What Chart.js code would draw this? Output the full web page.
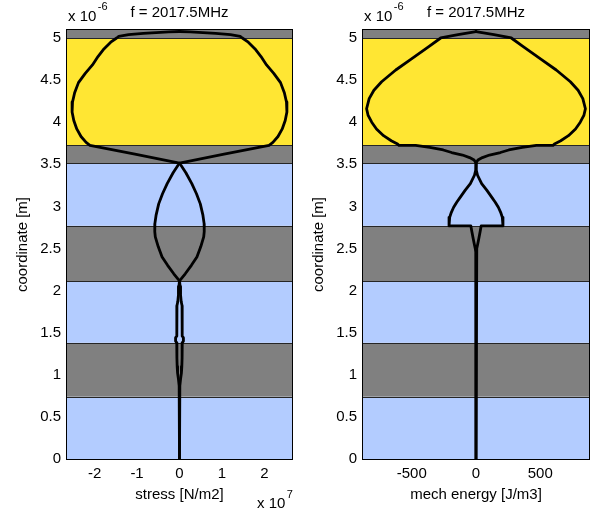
<!DOCTYPE html>
<html><head><meta charset="utf-8">
<script src="https://cdn.jsdelivr.net/npm/chart.js@4.4.1/dist/chart.umd.min.js"></script>
<style>
html,body{margin:0;padding:0;background:#fff;}
#wrap{position:relative;width:592px;height:515px;overflow:hidden;background:#fff;}
canvas{position:absolute;top:0;}
</style></head><body>
<div id="wrap">
<canvas id="c1" width="296" height="515" style="left:0px"></canvas>
<canvas id="c2" width="296" height="515" style="left:296px"></canvas>
</div>
<script>
// ---------- data (coordinate in 1e-6 m, stress in 1e7 N/m2, energy in J/m3) ----------
const titleText = 'f = 2017.5MHz';

// layer stack, bottom to top
const layerBottom   = [0,    0.74, 1.38, 2.11, 2.77, 3.515, 3.725, 5.0];
const layerTop      = [0.74, 1.38, 2.11, 2.77, 3.515, 3.725, 5.0, 5.095];
const layerMaterial = ['oxide','metal','oxide','metal','oxide','metal','piezo','metal'];

const coordTicks  = [0, 0.5, 1, 1.5, 2, 2.5, 3, 3.5, 4, 4.5, 5];
const stressTicks = [-2, -1, 0, 1, 2];
const energyTicks = [-500, 0, 500];

// stress envelope magnitude vs coordinate (top to bottom)
const stressCoord = [5.077, 5.072, 5.065, 5.055, 5.04, 5.02, 5.0, 4.95, 4.87, 4.78, 4.68, 4.58, 4.47, 4.35, 4.24, 4.12, 4.02, 3.92, 3.83, 3.76, 3.725, 3.62, 3.515,
  3.4, 3.27, 3.15, 3.03, 2.9, 2.795, 2.768, 2.7, 2.637, 2.52, 2.4, 2.3, 2.2, 2.115,
  2.05, 1.95, 1.87, 1.82, 1.7, 1.55, 1.46, 1.44, 1.42, 1.40, 1.38, 1.33, 1.2, 1.1, 1.02, 0.95, 0.87, 0.8, 0];
const stressAmp = [0, 0.25, 0.55, 0.85, 1.2, 1.43, 1.48, 1.62, 1.78, 1.92, 2.05, 2.22, 2.38, 2.47, 2.52, 2.53, 2.49, 2.42, 2.32, 2.2, 2.11, 1.05, 0,
  0.15, 0.29, 0.40, 0.49, 0.55, 0.58, 0.585, 0.58, 0.57, 0.5, 0.41, 0.28, 0.135, 0,
  0.015, 0.025, 0.04, 0.06, 0.062, 0.063, 0.065, 0.09, 0.095, 0.09, 0.065, 0.062, 0.06, 0.055, 0.045, 0.025, 0.008, 0, 0];

// mechanical energy envelope magnitude vs coordinate (top to bottom)
const energyCoord = [5.077, 5.04, 5.0, 4.9, 4.75, 4.62, 4.48, 4.38, 4.28, 4.16, 4.08, 4.0, 3.92, 3.84, 3.78, 3.745, 3.725,
  3.725, 3.70, 3.67, 3.64, 3.61, 3.58, 3.55, 3.515,
  3.43, 3.37, 3.27, 3.19, 3.11, 3.05, 2.99, 2.93, 2.87, 2.82, 2.768,
  2.768, 2.70, 2.62, 2.55, 2.50, 2.46, 0];
const energyAmp = [0, 140, 275, 365, 505, 625, 735, 795, 832, 852, 840, 812, 775, 720, 660, 615, 600,
  470, 360, 255, 190, 105, 50, 15, 0,
  2, 12, 44, 85, 122, 150, 174, 192, 205, 210, 210,
  40, 32, 22, 13, 6, 0, 0];

// ---------- styles ----------
const materialColor = {oxide:'#B3CCFF', metal:'#808080', piezo:'#FFE633'};
const FAMILY = '"Liberation Sans", Arial, Helvetica, sans-serif';
const FONT = {family: FAMILY, size: 15};

const layerPlugin = {
  id: 'layers',
  beforeDatasetsDraw(chart) {
    const {ctx, chartArea: a, scales: {y}} = chart;
    ctx.save();
    ctx.beginPath(); ctx.rect(a.left, a.top, a.right - a.left, a.bottom - a.top); ctx.clip();
    for (let i = 0; i < layerMaterial.length; i++) {
      const yb = y.getPixelForValue(layerBottom[i]);
      const yt = y.getPixelForValue(layerTop[i]);
      ctx.fillStyle = materialColor[layerMaterial[i]];
      ctx.fillRect(a.left, yt, a.right - a.left, yb - yt);
    }
    ctx.strokeStyle = '#262626'; ctx.lineWidth = 1;
    ctx.beginPath();
    for (let i = 1; i < layerBottom.length; i++) {
      const p = Math.round(y.getPixelForValue(layerBottom[i])) + 0.5;
      ctx.moveTo(a.left, p); ctx.lineTo(a.right, p);
    }
    ctx.stroke();
    ctx.restore();
  },
  afterDatasetsDraw(chart) {
    const {ctx, chartArea: a} = chart;
    ctx.save();
    ctx.strokeStyle = '#000'; ctx.lineWidth = 1;
    ctx.strokeRect(Math.round(a.left) - 0.5, Math.round(a.top) - 0.5, Math.round(a.right - a.left) + 1, Math.round(a.bottom - a.top) + 1);
    ctx.restore();
  }
};

function drawExp(ctx, x, base, mant, exp) {
  ctx.font = '15px ' + FAMILY;
  ctx.textAlign = 'left'; ctx.textBaseline = 'alphabetic';
  ctx.fillText(mant, x, base);
  const w = ctx.measureText(mant).width;
  ctx.font = '11px ' + FAMILY;
  ctx.fillText(exp, x + w + 1.5, base - 10.5);
}

function textPlugin(xExp) {
  return {
    id: 'texts',
    afterDraw(chart) {
      const {ctx, chartArea: a} = chart;
      ctx.save();
      ctx.fillStyle = '#000';
      drawExp(ctx, a.left + 1, a.top - 9.5, 'x 10', '-6');
      ctx.font = '15px ' + FAMILY;
      ctx.textAlign = 'center'; ctx.textBaseline = 'alphabetic';
      ctx.fillText(titleText, (a.left + a.right) / 2, a.top - 13);
      if (xExp) drawExp(ctx, a.right - 35, a.bottom + 49, 'x 10', xExp);
      ctx.restore();
    }
  };
}

function envelope(coords, amps, sign) {
  return coords.map((c, i) => ({x: sign * amps[i], y: c}));
}

function makeChart(id, coords, amps, xLim, xTicks, xTitle, xExp, padRight) {
  const ds = s => ({
    data: envelope(coords, amps, s), showLine: true, pointRadius: 0,
    borderColor: '#000', borderWidth: 2.8, tension: 0, fill: false,
    borderJoinStyle: 'round', borderCapStyle: 'round'
  });
  return new Chart(document.getElementById(id), {
    type: 'scatter',
    data: {datasets: [ds(1), ds(-1)]},
    options: {
      responsive: false, animation: false, devicePixelRatio: 1,
      layout: {padding: {left: 0, right: padRight, top: 30, bottom: 0}},
      plugins: {legend: {display: false}, tooltip: {enabled: false}},
      scales: {
        x: {
          type: 'linear', min: -xLim, max: xLim,
          afterBuildTicks: s => { s.ticks = xTicks.map(v => ({value: v})); },
          afterFit: s => { s.height = 56; },
          grid: {display: false, drawTicks: false}, border: {display: false},
          ticks: {padding: 6, color: '#000', font: FONT, autoSkip: false, maxRotation: 0, callback: v => String(v)},
          title: {display: true, text: xTitle, color: '#000', font: FONT, padding: {top: 0, bottom: 11}}
        },
        y: {
          type: 'linear', min: 0, max: 5.095,
          afterBuildTicks: s => { s.ticks = coordTicks.map(v => ({value: v})); },
          afterFit: s => { s.width = 67; },
          grid: {display: false, drawTicks: false}, border: {display: false},
          ticks: {padding: 6, color: '#000', font: FONT, autoSkip: false, callback: v => String(v)},
          title: {display: true, text: 'coordinate [m]', color: '#000', font: FONT, padding: {top: 14, bottom: 0}}
        }
      }
    },
    plugins: [layerPlugin, textPlugin(xExp)]
  });
}

makeChart('c1', stressCoord, stressAmp, 2.65, stressTicks, 'stress [N/m2]', '7', 4);
makeChart('c2', energyCoord, energyAmp, 880, energyTicks, 'mech energy [J/m3]', null, 3);
</script>
</body></html>
